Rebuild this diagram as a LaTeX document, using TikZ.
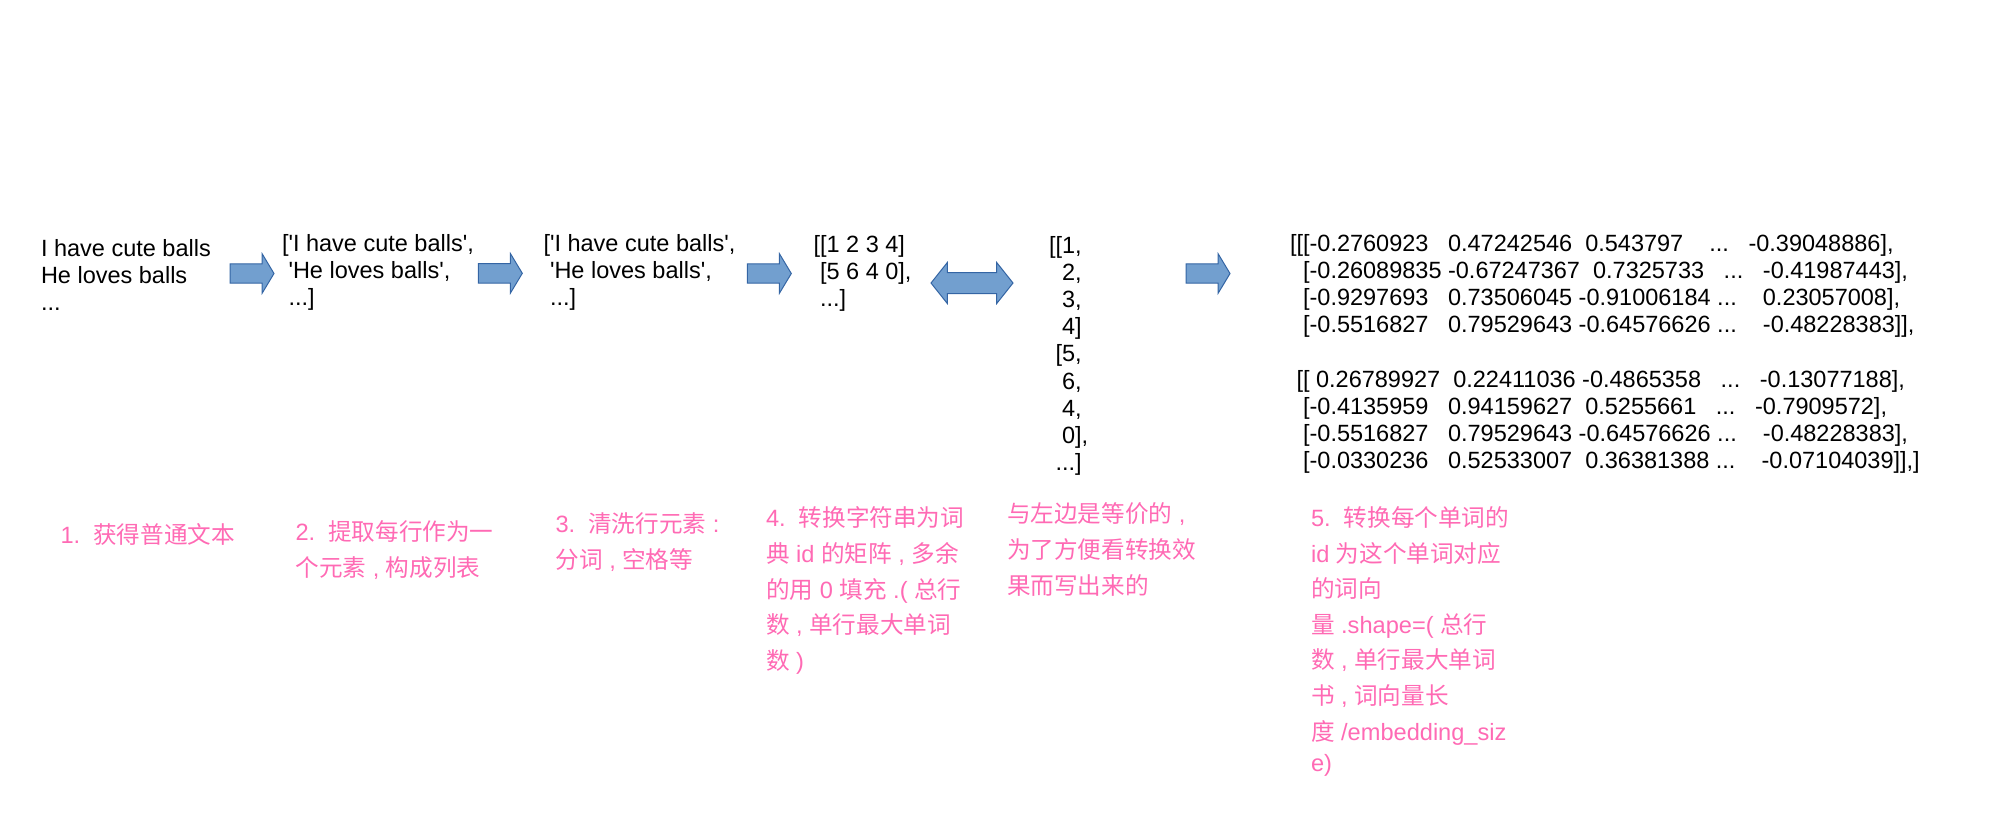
\documentclass[tikz,border=0pt]{standalone}
\usepackage{fontspec}
\setmainfont{Liberation Sans}
\newfontfamily\cjk{Noto Sans CJK SC}
\usetikzlibrary{shapes.arrows}

\definecolor{arrowfill}{HTML}{729FCF}
\definecolor{arrowedge}{HTML}{3465A4}
\definecolor{notepink}{HTML}{FF6AB4}
\newcommand{\zh}[1]{{\cjk #1}}
\newcommand{\qt}{\textquotesingle}

\begin{document}
\begin{tikzpicture}[
    x=0.5pt, y=-0.5pt,
    every node/.style={inner sep=0pt, outer sep=0pt},
    data/.style={anchor=north west, align=left, font=\fontsize{11.75pt}{13.6pt}\selectfont},
    note/.style={anchor=north west, align=left, text=notepink, font=\fontsize{11.8pt}{17.8pt}\selectfont},
    fwd/.style={single arrow, anchor=tail, fill=arrowfill, draw=arrowedge, line width=0.5pt,
                inner ysep=4.6pt, minimum height=22pt, minimum width=19.25pt,
                single arrow head extend=5pt, single arrow tip angle=118},
    both/.style={double arrow, fill=arrowfill, draw=arrowedge, line width=0.5pt,
                inner ysep=5pt, minimum height=41pt, minimum width=20pt,
                double arrow head extend=5pt, double arrow tip angle=103},
]
  \useasboundingbox (0,0) rectangle (2016,816);

  % data at each step
  \node [data] (plain)   at (41,237)     {\strut I have cute balls\\He loves balls\\...};
  \node [data] (lines)   at (282,232.5)  {\strut[\qt I have cute balls\qt,\\~\qt He loves balls\qt,\\~...]};
  \node [data] (cleaned) at (543.5,232.5){\strut[\qt I have cute balls\qt,\\~\qt He loves balls\qt,\\~...]};
  \node [data] (ids)     at (813.5,233.5){\strut[[1 2 3 4]\\~[5 6 4 0],\\~...]};
  \node [data] (idcol)   at (1049,234)   {\strut[[1,\\\hphantom{[[}2,\\\hphantom{[[}3,\\\hphantom{[[}4]\\
                                          \hphantom{[}[5,\\\hphantom{[[}6,\\\hphantom{[[}4,\\\hphantom{[[}0],\\
                                          \hphantom{[}...]};
  \node [data] (vecs)    at (1290,232)   {\strut[[[-0.2760923~~~0.47242546~~0.543797~~~~...~~~-0.39048886],\\
                                          ~~[-0.26089835~-0.67247367~~0.7325733~~~...~~~-0.41987443],\\
                                          ~~[-0.9297693~~~0.73506045~-0.91006184~...~~~~0.23057008],\\
                                          ~~[-0.5516827~~~0.79529643~-0.64576626~...~~~~-0.48228383]],\\[13.6pt]
                                          ~[[~0.26789927~~0.22411036~-0.4865358~~~...~~~-0.13077188],\\
                                          ~~[-0.4135959~~~0.94159627~~0.5255661~~~...~~~-0.7909572],\\
                                          ~~[-0.5516827~~~0.79529643~-0.64576626~...~~~~-0.48228383],\\
                                          ~~[-0.0330236~~~0.52533007~~0.36381388~...~~~~-0.07104039]],]};

  % block arrows
  \node [fwd]  (a1) at (230,273.5)    {};
  \node [fwd]  (a2) at (478.3,273.3)  {};
  \node [fwd]  (a3) at (747.3,273.5)  {};
  \node [both] (eq) at (972,283)      {};
  \node [fwd]  (a4) at (1186,273.5)   {};

  % notes
  \node [note] (n1) at (60.5,519)   {\strut 1.~~\zh{获得普通文本}};
  \node [note] (n2) at (295.5,516)  {\strut 2.~~\zh{提取每行作为一}\\\zh{个元素} , \zh{构成列表}};
  \node [note] (n3) at (555.5,507.5){\strut 3.~~\zh{清洗行元素} :\\\zh{分词} , \zh{空格等}};
  \node [note] (n4) at (766,502)    {\strut 4.~~\zh{转换字符串为词}\\\zh{典} id \zh{的矩阵} , \zh{多余}\\
                                     \zh{的用} 0 \zh{填充} .( \zh{总行}\\\zh{数} , \zh{单行最大单词}\\\zh{数} )};
  \node [note] (n0) at (1007,498)   {\strut\zh{与左边是等价的} ,\\\zh{为了方便看转换效}\\\zh{果而写出来的}};
  \node [note] (n5) at (1311,501.5) {\strut 5.~~\zh{转换每个单词的}\\id \zh{为这个单词对应}\\\zh{的词向}\\
                                     \zh{量} .shape=( \zh{总行}\\\zh{数} , \zh{单行最大单词}\\\zh{书} , \zh{词向量长}\\
                                     \zh{度} /embedding\_siz\\[-2pt]e)};
\end{tikzpicture}
\end{document}
